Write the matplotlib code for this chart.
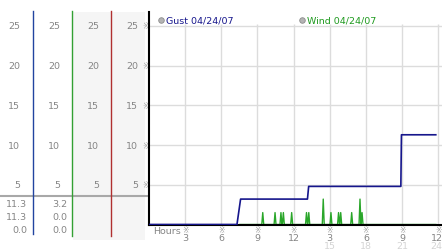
import matplotlib
matplotlib.use('Agg')
import matplotlib.pyplot as plt
from matplotlib.transforms import blended_transform_factory

# readings for 04/24/07, hours since midnight, mph
gust_hours = [0.0, 7.3, 7.6, 13.15, 13.25, 20.9, 20.95, 23.8]
gust_mph = [0.0, 0.0, 3.2, 3.2, 4.8, 4.8, 11.3, 11.3]

wind_hours = [7.55,
              9.36, 9.44, 9.52,
              10.38, 10.46, 10.54,
              10.87, 10.95, 11.03,
              11.07, 11.15, 11.23,
              11.76, 11.84, 11.92,
              12.99, 13.07, 13.15,
              13.18, 13.26, 13.34,
              14.38, 14.46, 14.54,
              15.02, 15.10, 15.18,
              15.65, 15.73, 15.81,
              15.83, 15.91, 15.99,
              16.74, 16.82, 16.90,
              17.43, 17.51, 17.59,
              17.60, 17.68, 17.76,
              23.8]
wind_mph = [0.0,
            0.0, 1.5, 0.0,
            0.0, 1.5, 0.0,
            0.0, 1.5, 0.0,
            0.0, 1.5, 0.0,
            0.0, 1.5, 0.0,
            0.0, 1.5, 0.0,
            0.0, 1.5, 0.0,
            0.0, 3.2, 0.0,
            0.0, 1.5, 0.0,
            0.0, 1.5, 0.0,
            0.0, 1.5, 0.0,
            0.0, 1.5, 0.0,
            0.0, 3.2, 0.0,
            0.0, 1.5, 0.0,
            0.0]

y_ticks = [5, 10, 15, 20, 25]
hour_ticks = [3, 6, 9, 12, 15, 18, 21, 24]
hour_labels = ['3', '6', '9', '12', '3', '6', '9', '12']
hour_labels_24 = ['15', '18', '21', '24']
legend_labels = ['Gust 04/24/07', 'Wind 04/24/07']

gust_stats = [max(gust_mph), gust_mph[-1], min(gust_mph)]
wind_stats = [max(wind_mph), wind_mph[-1], min(wind_mph)]

GUST = '#16168c'
WIND = '#2aa62a'
LABEL = '#858585'
FS = 6.8

fig = plt.figure(figsize=(4.42, 2.53), dpi=100)

# pixel overlay for the side panels
ov = fig.add_axes([0, 0, 1, 1], zorder=0)
ov.set_xlim(0, 442)
ov.set_ylim(253, 0)
ov.axis('off')

ax = fig.add_axes([149 / 442, (253 - 225.5) / 253, 293 / 442, 212.5 / 253], zorder=1)
ax.set_xlim(0, 293 / 12.05)
ax.set_ylim(0, 25 + 14 / 7.94)
ax.patch.set_alpha(0)

side = blended_transform_factory(ov.transData, ax.transData)

# side panel backgrounds and divider lines
ov.fill_between([72.5, 145], 13, 241, color='#f5f5f5', lw=0)
ov.plot([0, 148], [197, 197], color='#a8a8a8', lw=1.5)
ov.plot([33, 33], [12, 235], color='#2244a0', lw=1)
ov.plot([72, 72], [12, 237], color='#33a033', lw=1)
ov.plot([111, 111], [12, 237], color='#b03030', lw=1)

for x in [20, 60, 99, 138]:
    for v in y_ticks:
        ov.text(x, v, str(v), transform=side, ha='right', va='center',
                fontsize=FS, color=LABEL)
for v in y_ticks:
    ov.text(145.5, v, '※', transform=side, ha='center', va='center',
            fontsize=5.5, color='#999999')

for i, y in enumerate([205, 218, 231]):
    ov.text(27, y, '%.1f' % gust_stats[i], ha='right', va='center',
            fontsize=FS, color=LABEL)
    ov.text(67, y, '%.1f' % wind_stats[i], ha='right', va='center',
            fontsize=FS, color=LABEL)

# main chart
for v in y_ticks:
    ax.axhline(v, color='#dcdcdc', lw=1, zorder=0)
ax.vlines(hour_ticks, 0, 25.3, color='#dcdcdc', lw=1, zorder=0)

ax.plot(wind_hours, wind_mph, color=WIND, lw=1, zorder=2)
ax.plot(gust_hours, gust_mph, color=GUST, lw=1.2, zorder=3)

for s in ['top', 'right']:
    ax.spines[s].set_visible(False)
for s in ['left', 'bottom']:
    ax.spines[s].set_color('black')
    ax.spines[s].set_linewidth(1.5)
ax.set_xticks([])
ax.set_yticks([])

# hour labels under the axis
for h, lab in zip(hour_ticks, hour_labels):
    ov.text(149 + h * 12.05, 231, '※', ha='center', va='center',
            fontsize=5.5, color='#999999')
    ov.text(149 + h * 12.05 - (1.5 if h == 24 else 0), 238.7, lab,
            ha='center', va='center', fontsize=FS, color=LABEL)
for h, lab in zip(hour_ticks[4:], hour_labels_24):
    ov.text(149 + h * 12.05 - (1.5 if h == 24 else 0), 247, lab,
            ha='center', va='center', fontsize=FS, color='#d4d4d4')
ov.text(153, 232, 'Hours', ha='left', va='center', fontsize=FS, color=LABEL)

# legend
for x, lab, col in [(160.7, legend_labels[0], GUST), (301.7, legend_labels[1], '#1f9a1f')]:
    ov.plot(x, 21, 'o', ms=4, mfc='#b4b4b4', mec='#8c8c8c', mew=0.6)
    ov.text(x + 5, 21, lab, ha='left', va='center', fontsize=FS, color=col)

fig.savefig('out.png', dpi=100)
